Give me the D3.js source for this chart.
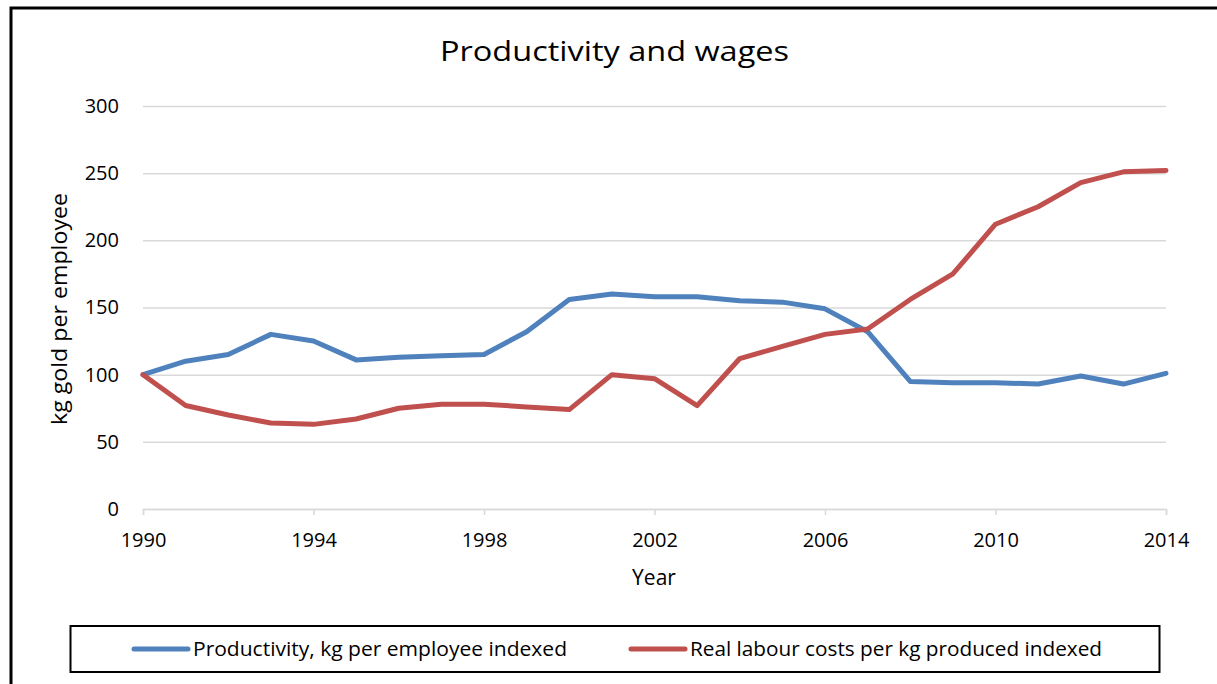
<!DOCTYPE html>
<html>
<head>
<meta charset="utf-8">
<script src="https://cdn.jsdelivr.net/npm/d3@7"></script>
<style>
  html, body { margin: 0; padding: 0; background: #fff; }
  svg { display: block; font-family: "Open Sans", "Noto Sans", sans-serif; }
</style>
</head>
<body>
<svg id="chart" width="1217" height="684"></svg>
<script>
// Index series, 1990 = 100
const years = d3.range(1990, 2015);
const productivity = [100, 110, 115, 130, 125, 111, 113, 114, 115, 132, 156, 160, 158, 158, 155, 154, 149, 132, 95, 94, 94, 93, 99, 93, 101];
const labourCosts  = [100, 77, 70, 64, 63, 67, 75, 78, 78, 76, 74, 100, 97, 77, 112, 121, 130, 134, 156, 175, 212, 225, 243, 251, 252];
const xTicks = [1990, 1994, 1998, 2002, 2006, 2010, 2014];
const yTicks = [0, 50, 100, 150, 200, 250, 300];
const seriesNames = ["Productivity, kg per employee indexed", "Real labour costs per kg produced indexed"];
const seriesColors = ["#4F81BD", "#C0504D"];
const titleText = "Productivity and wages";
const xTitle = "Year";
const yTitle = "kg gold per employee";

const svg = d3.select("#chart");
const plot = { left: 143, right: 1166, top: 106, bottom: 509 };

const x = d3.scaleLinear().domain([1990, 2014]).range([plot.left, plot.right]);
const y = d3.scaleLinear().domain([0, 300]).range([plot.bottom, plot.top]);

// Stretch or squeeze a text element to a given rendered width
function fitWidth(sel, w) {
  const n = sel.node();
  const cur = n.getComputedTextLength();
  if (Math.abs(cur - w) / w > 0.015) {
    sel.attr("textLength", w).attr("lengthAdjust", "spacingAndGlyphs");
  }
  return sel;
}

// Outer chart frame (left and top edges)
svg.append("path")
  .attr("d", "M11,690 L11,8 L1230,8")
  .attr("fill", "none")
  .attr("stroke", "#000")
  .attr("stroke-width", 3);

// Title
fitWidth(svg.append("text")
  .attr("x", 614.5).attr("y", 61)
  .attr("text-anchor", "middle")
  .attr("font-size", 28)
  .attr("fill", "#000")
  .text(titleText), 349);

// Horizontal gridlines with y labels
const yAxis = svg.append("g")
  .attr("transform", `translate(${plot.left},0)`)
  .call(d3.axisLeft(y).tickValues(yTicks).tickSize(-(plot.right - plot.left)).tickPadding(24).tickFormat(d3.format("d")));
yAxis.select(".domain").remove();
yAxis.selectAll(".tick line").attr("stroke", "#D9D9D9").attr("stroke-width", 1.5);
yAxis.selectAll(".tick text")
  .attr("font-size", 20).attr("fill", "#000")
  .attr("font-family", "'Open Sans', 'Noto Sans', sans-serif");

// Category axis along the zero line
const xAxis = svg.append("g")
  .attr("transform", `translate(0,${plot.bottom})`)
  .call(d3.axisBottom(x).tickValues(xTicks).tickSize(6).tickPadding(18).tickFormat(d3.format("d")));
xAxis.select(".domain").attr("stroke", "#D9D9D9").attr("stroke-width", 1.5);
xAxis.selectAll(".tick line").attr("stroke", "#D9D9D9").attr("stroke-width", 1.5);
xAxis.selectAll(".tick text")
  .attr("font-size", 20).attr("fill", "#000")
  .attr("font-family", "'Open Sans', 'Noto Sans', sans-serif");

// Axis titles
svg.append("text")
  .attr("x", 654).attr("y", 585)
  .attr("text-anchor", "middle")
  .attr("font-size", 21)
  .text(xTitle);

fitWidth(svg.append("text")
  .attr("transform", "translate(67,309) rotate(-90)")
  .attr("text-anchor", "middle")
  .attr("font-size", 21)
  .text(yTitle), 232);

// Series lines
const line = d3.line()
  .x((d, i) => x(years[i]))
  .y(d => y(d));

[productivity, labourCosts].forEach((vals, k) => {
  svg.append("path")
    .datum(vals)
    .attr("fill", "none")
    .attr("stroke", seriesColors[k])
    .attr("stroke-width", 5)
    .attr("stroke-linejoin", "round")
    .attr("stroke-linecap", "round")
    .attr("d", line);
});

// Legend
const legend = svg.append("g");
legend.append("rect")
  .attr("x", 70.5).attr("y", 626)
  .attr("width", 1089).attr("height", 46)
  .attr("fill", "#fff")
  .attr("stroke", "#000")
  .attr("stroke-width", 2);

const legendItems = [
  { x0: 134, x1: 188, tx: 193, tw: 374 },
  { x0: 631, x1: 685, tx: 690, tw: 412 }
];
legendItems.forEach((it, k) => {
  legend.append("line")
    .attr("x1", it.x0).attr("x2", it.x1)
    .attr("y1", 649).attr("y2", 649)
    .attr("stroke", seriesColors[k])
    .attr("stroke-width", 5)
    .attr("stroke-linecap", "round");
  fitWidth(legend.append("text")
    .attr("x", it.tx).attr("y", 656)
    .attr("font-size", 20)
    .text(seriesNames[k]), it.tw);
});
</script>
</body>
</html>
